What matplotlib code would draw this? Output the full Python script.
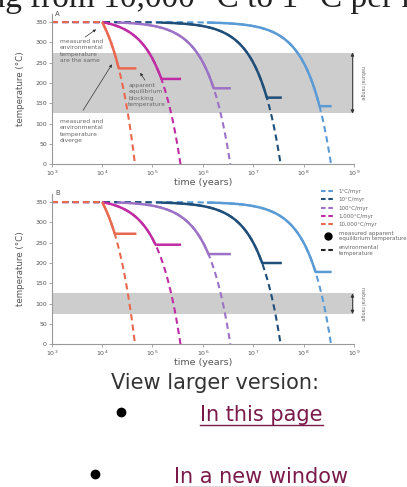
import numpy as np
import matplotlib
matplotlib.use("Agg")
import matplotlib.pyplot as plt
from matplotlib.lines import Line2D

W, H = 407, 487

# cooling rates (°C / Myr) and their colours, legend order
rate_labels = ["1°C/myr", "10°C/myr", "100°C/myr", "1,000°C/myr", "10,000°C/myr"]
rates_per_myr = [1, 10, 100, 1000, 10000]
colors = ["#5b9bd5", "#1f4e79", "#9b72c6", "#c02ca3", "#e8694f"]

t_hold_start = 1e3      # years, start of 350 °C hold
t_cool_start = 1e4      # years, cooling begins
T_start = 350           # °C

# solid (measured) line start
solid_start = [1.2e6, 1.5e5, 2.0e4, 1.0e4, 1.0e4]
# apparent equilibrium (plateau) temperature, panel A and B
plateau_A = [143, 164, 187, 210, 236]
plateau_B = [178, 200, 222, 245, 272]
# where plateau stops (years)
plateau_end = [3.6e8, 3.7e7, 3.6e6, 3.7e5, 4.8e4]

# grey "natural range" bands
band_A = (125, 275)
band_B = (75, 125)

xticks = [1e3, 1e4, 1e5, 1e6, 1e7, 1e8, 1e9]
yticks = [0, 50, 100, 150, 200, 250, 300, 350]

GREY = "#666666"


def env_temp(t, rate):
    r = rate / 1e6
    return np.where(t < t_cool_start, T_start, T_start - r * (t - t_cool_start))


def draw_panel(ax, plateau, band):
    ax.axhspan(band[0], band[1], color="#cdcdcd", lw=0, zorder=0)
    # environmental temperature (dashed), draw order so red sits on top
    order = [2, 3, 0, 1, 4]
    for i in order:
        r = rates_per_myr[i]
        t_zero = t_cool_start + T_start / (r / 1e6)
        t = np.logspace(np.log10(t_hold_start), np.log10(t_zero), 600)
        ax.plot(t, env_temp(t, r), color=colors[i], lw=1.5,
                dashes=(3, 2), zorder=2)
    # measured temperature (solid)
    for i in order:
        r = rates_per_myr[i]
        t = np.logspace(np.log10(solid_start[i]), np.log10(plateau_end[i]), 600)
        T = np.maximum(env_temp(t, r), plateau[i])
        ax.plot(t, T, color=colors[i], lw=1.8, solid_capstyle="butt", zorder=3)

    ax.set_xscale("log")
    ax.set_xlim(1e3, 1e9)
    ax.set_ylim(0, 370)
    ax.set_xticks(xticks)
    ax.xaxis.set_minor_locator(matplotlib.ticker.NullLocator())
    ax.set_yticks(yticks)
    for s in ["top", "right"]:
        ax.spines[s].set_visible(False)
    for s in ["left", "bottom"]:
        ax.spines[s].set_color("#999999")
        ax.spines[s].set_linewidth(0.8)
    ax.tick_params(length=2, width=0.6, color="#999999", labelsize=4.5,
                   labelcolor="#555555", pad=1.5)
    ax.set_xlabel("time (years)", fontsize=6.8, color="#555555", labelpad=0)
    ax.set_ylabel("temperature (°C)", fontsize=6.3, color="#555555", labelpad=7)

    # double arrow at right edge
    ax.annotate("", xy=(0.995, band[1]), xytext=(0.995, band[0]),
                xycoords=("axes fraction", "data"),
                textcoords=("axes fraction", "data"),
                arrowprops=dict(arrowstyle="<|-|>", color="#333333", lw=0.6,
                                mutation_scale=5, shrinkA=0, shrinkB=0),
                annotation_clip=False)
    ax.text(1.027, (band[0] + band[1]) / 2, "natural range", rotation=270,
            fontsize=3.5, color=GREY, ha="center", va="center",
            transform=matplotlib.transforms.blended_transform_factory(
                ax.transAxes, ax.transData))


fig = plt.figure(figsize=(W / 100, H / 100), dpi=100)

axA = fig.add_axes([51.7 / W, 1 - 164.3 / H, 302.3 / W, 150.4 / H])
axB = fig.add_axes([51.7 / W, 1 - 344.3 / H, 302.3 / W, 150.4 / H])
draw_panel(axA, plateau_A, band_A)
draw_panel(axB, plateau_B, band_B)

fig.text(55 / W, 1 - 14 / H, "A", fontsize=5, color="#555555", va="center")
fig.text(55 / W, 1 - 193 / H, "B", fontsize=5, color="#555555", va="center")

# annotations in panel A
ann_kw = dict(fontsize=4.3, color=GREY, linespacing=1.35, va="center", ha="left")
arrow_kw = dict(arrowstyle="-|>", color="#333333", lw=0.5, mutation_scale=4,
                shrinkA=0, shrinkB=0)
axA.text(1.46e3, 279, "measured and\nenvironmental\ntemperature\nare the same", **ann_kw)
axA.annotate("", xy=(7.6e3, 332), xytext=(4.6e3, 313), arrowprops=arrow_kw)
axA.text(3.3e4, 170, "apparent\nequilibrium\nblocking\ntemperature", **ann_kw)
axA.annotate("", xy=(5.7e4, 225), xytext=(7.1e4, 207), arrowprops=arrow_kw)
axA.text(1.46e3, 82, "measured and\nenvironmental\ntemperature\ndiverge", **ann_kw)
axA.annotate("", xy=(1.57e4, 246), xytext=(4.2e3, 133), arrowprops=arrow_kw)

# legend
handles = [Line2D([], [], color=c, lw=1.5, dashes=(2.2, 1.3)) for c in colors]
handles.append(Line2D([], [], color="black", marker="o", ls="none", markersize=5))
handles.append(Line2D([], [], color="#222222", lw=1.5, dashes=(2.2, 1.3)))
labels = rate_labels + ["measured apparent\nequilibrium temperature",
                        "environmental\ntemperature"]
leg = fig.legend(handles, labels, loc="upper left",
                 bbox_to_anchor=(321 / W, 1 - 189 / H), frameon=False,
                 fontsize=4, handlelength=2.4, handletextpad=0.8,
                 labelspacing=0.6, borderaxespad=0, borderpad=0)
for txt in leg.get_texts():
    txt.set_color(GREY)

# page text around the figure (cut off at the top edge)
fig.text(23 / W, 1 - 7 / H, "cooling", fontsize=24, family="Liberation Serif",
         color="#222222", ha="right", va="baseline")
fig.text(30 / W, 1 - 7 / H, "from 10,000 °C to 1 °C per million years",
         fontsize=24, family="Liberation Serif", color="#222222",
         ha="left", va="baseline")

fig.text(215 / W, 1 - 383 / H, "View larger version:", fontsize=15,
         color="#333333", ha="center", va="center")

link_color = "#7a1a4a"
links = [("In this page", 200, 415, 121, 412), ("In a new window", 174, 477, 95, 474)]
page = fig.add_axes([0, 0, 1, 1], facecolor="none")
page.set_xlim(0, W)
page.set_ylim(H, 0)
page.axis("off")
fig.canvas.draw()
renderer = fig.canvas.get_renderer()
for label, x, y, bx, by in links:
    t = page.text(x, y, label, fontsize=15, color=link_color, ha="left", va="center")
    page.plot([bx], [by], "o", color="black", markersize=6)
    bb = t.get_window_extent(renderer)
    x0, x1 = bb.x0, bb.x1
    page.plot([x0, x1], [y + 10, y + 10], color=link_color, lw=1)

fig.savefig("out.png", dpi=100)
